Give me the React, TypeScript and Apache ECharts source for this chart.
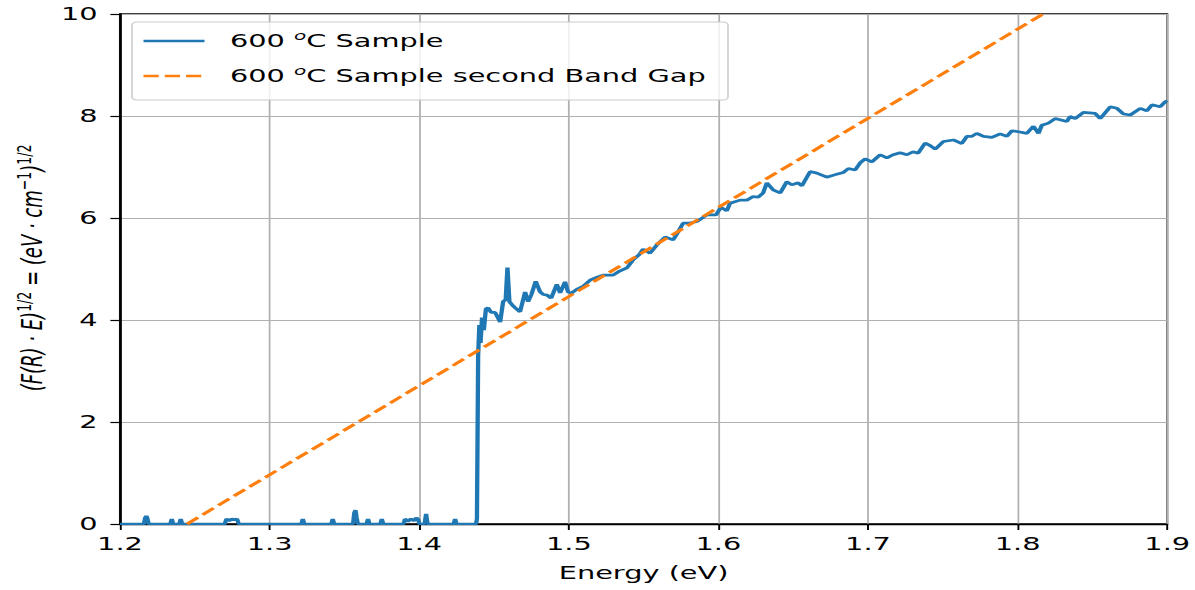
import React, { useEffect, useRef } from "react";
import * as echarts from "echarts";

// ---- data ----
const sampleEnergy = [
  1.2, 1.216, 1.2168, 1.2176, 1.2184, 1.2192, 1.2336, 1.2346, 1.2356, 1.2396, 1.2406, 1.2416,
  1.27, 1.2712, 1.273, 1.2748, 1.2768, 1.2782, 1.2794, 1.3212, 1.3222, 1.3232, 1.3412, 1.3422, 1.3432,
  1.3558, 1.3566, 1.3574, 1.3582, 1.359, 1.3648, 1.3658, 1.3668, 1.374, 1.375, 1.376,
  1.3895, 1.3905, 1.3925, 1.3945, 1.3965, 1.398, 1.3992, 1.4002, 1.4036, 1.4046, 1.4056,
  1.423, 1.424, 1.425, 1.438, 1.4386, 1.4394, 1.4402, 1.441, 1.442, 1.4432, 1.4446, 1.446, 1.448,
  1.4507, 1.4525, 1.4541, 1.4561, 1.4578, 1.459, 1.4603, 1.462, 1.4641, 1.4674, 1.4708, 1.4728,
  1.475, 1.4779, 1.4808, 1.483, 1.4853, 1.4882, 1.492, 1.4942, 1.4975, 1.4995, 1.502, 1.5053,
  1.5096, 1.5142, 1.519, 1.5229, 1.5296, 1.534, 1.5388, 1.543, 1.547, 1.5497, 1.5543, 1.5588,
  1.5644, 1.5697, 1.573, 1.5764, 1.5811, 1.5856, 1.5923, 1.5984, 1.6016, 1.6056, 1.6078, 1.6145,
  1.619, 1.6232, 1.6266, 1.6299, 1.6324, 1.6366, 1.6413, 1.6457, 1.6491, 1.6533, 1.6558, 1.6613,
  1.6658, 1.6725, 1.6792, 1.6834, 1.6869, 1.6914, 1.6947, 1.6981, 1.7026, 1.7081, 1.7126, 1.7168,
  1.7215, 1.726, 1.7302, 1.7335, 1.7382, 1.7416, 1.7449, 1.7504, 1.7571, 1.7627, 1.7661, 1.7694,
  1.7727, 1.7772, 1.7828, 1.7883, 1.7928, 1.7962, 1.8006, 1.8062, 1.8106, 1.814, 1.8162, 1.8206,
  1.8251, 1.8329, 1.8351, 1.8385, 1.844, 1.8519, 1.8552, 1.8619, 1.8664, 1.8708, 1.8753, 1.882,
  1.8864, 1.8898, 1.8953, 1.8987, 1.9,
];
const sampleValue = [
  0, 0, 0.12, 0.16, 0.1, 0, 0, 0.1, 0, 0, 0.1, 0,
  0, 0.1, 0.06, 0.1, 0.08, 0.1, 0, 0, 0.1, 0, 0, 0.1, 0,
  0, 0.22, 0.27, 0.12, 0, 0, 0.1, 0, 0, 0.1, 0,
  0, 0.1, 0.05, 0.1, 0.06, 0.12, 0.1, 0, 0, 0.2, 0,
  0, 0.1, 0, 0, 0.1, 3.3, 3.9, 3.55, 4.05, 3.8, 4.22, 4.24, 4.15,
  4.15, 4.05, 3.96, 4.36, 4.4, 5.03, 4.36, 4.3, 4.24, 4.16, 4.55, 4.36,
  4.5, 4.76, 4.55, 4.5, 4.49, 4.43, 4.7, 4.53, 4.75, 4.55, 4.53, 4.6,
  4.66, 4.78, 4.84, 4.88, 4.88, 4.96, 5.02, 5.18, 5.28, 5.39, 5.31, 5.47,
  5.63, 5.57, 5.72, 5.9, 5.9, 5.93, 6.06, 6.06, 6.21, 6.14, 6.29, 6.35,
  6.35, 6.42, 6.41, 6.49, 6.69, 6.55, 6.49, 6.71, 6.65, 6.69, 6.63, 6.91,
  6.88, 6.8, 6.86, 6.89, 6.97, 6.94, 7.08, 7.16, 7.1, 7.24, 7.18, 7.24,
  7.28, 7.24, 7.3, 7.27, 7.47, 7.42, 7.35, 7.5, 7.53, 7.46, 7.6, 7.6,
  7.66, 7.6, 7.58, 7.65, 7.6, 7.71, 7.69, 7.66, 7.8, 7.66, 7.82, 7.86,
  7.95, 7.89, 7.99, 7.95, 8.07, 8.05, 7.95, 8.18, 8.15, 8.04, 8.02, 8.15,
  8.1, 8.22, 8.18, 8.28, 8.3,
];
const bandGapEnergy = [1.2448, 1.817];
const bandGapValue = [0, 10];

const xMin = 1.2;
const xMax = 1.9;
const xStep = 0.1;
const yMin = 0;
const yMax = 10;
const yStep = 2;

const seriesNames = ["600 °C Sample", "600 °C Sample second Band Gap"];
const xAxisTitle = "Energy (eV)";

// ---- layout (pre-stretch coordinates) ----
const STRETCH = 1.6;
const W = 1195;
const H = 590;
const IW = W / STRETCH;
const FONT = "'DejaVu Sans', sans-serif";
const FS = 18;
const LW = 2.7;
const BLUE = "#1f77b4";
const ORANGE = "#ff7f0e";

export default function App() {
  const ref = useRef<HTMLDivElement>(null);

  useEffect(() => {
    if (!ref.current) return;
    const chart = echarts.init(ref.current, undefined, { renderer: "svg" });

    const baseText = { fontFamily: FONT, fontSize: FS, color: "#000" };
    const legendRich = {
      n: { fontFamily: FONT, fontSize: FS, fill: "#000", lineHeight: 23 },
      s: { fontFamily: FONT, fontSize: 12.5, fontStyle: "italic", fill: "#000", lineHeight: 12, verticalAlign: "top" },
    };
    const labelText = (name: string) => {
      const parts = name.split("°");
      return `{n|${parts[0]}}{s|o}{n|${parts[1]}}`;
    };

    chart.setOption({
      animation: false,
      backgroundColor: "#fff",
      grid: {
        left: 120 / STRETCH,
        right: 28 / STRETCH,
        top: 14,
        bottom: 66,
        show: true,
        borderColor: "#000",
        borderWidth: 1.3,
        backgroundColor: "transparent",
      },
      xAxis: {
        type: "value",
        min: xMin,
        max: xMax,
        interval: xStep,
        name: xAxisTitle,
        nameLocation: "middle",
        nameGap: 40,
        nameTextStyle: { ...baseText },
        axisLine: { show: true, onZero: false, lineStyle: { color: "#000", width: 1.3 } },
        axisTick: { show: true, length: 6, lineStyle: { color: "#000", width: 1.2 } },
        axisLabel: {
          ...baseText,
          margin: 11,
          showMaxLabel: true,
          showMinLabel: true,
          formatter: (v: number) => v.toFixed(1),
        },
        splitLine: { show: true, lineStyle: { color: "#b0b0b0", width: 1.1 } },
      },
      yAxis: {
        type: "value",
        min: yMin,
        max: yMax,
        interval: yStep,
        axisLine: { show: true, lineStyle: { color: "#000", width: 1.3 } },
        axisTick: { show: true, length: 6, lineStyle: { color: "#000", width: 1.2 } },
        axisLabel: { ...baseText, margin: 14, formatter: (v: number) => String(v) },
        splitLine: { show: true, lineStyle: { color: "#b0b0b0", width: 1.1 } },
      },
      series: [
        {
          name: seriesNames[0],
          type: "line",
          data: sampleEnergy.map((e, i) => [e, sampleValue[i]]),
          symbol: "none",
          lineStyle: { color: BLUE, width: LW },
          z: 3,
        },
        {
          name: seriesNames[1],
          type: "line",
          data: bandGapEnergy.map((e, i) => [e, bandGapValue[i]]),
          symbol: "none",
          lineStyle: { color: ORANGE, width: LW, type: [9.5, 4] },
          z: 4,
        },
      ],
      graphic: [
        {
          type: "text",
          x: 20,
          y: 268,
          rotation: Math.PI / 2,
          style: {
            text: "{i|(F(R) · E)}{s|1/2}{i| = (eV · cm}{s|−1}{i|)}{s|1/2}",
            align: "center",
            verticalAlign: "middle",
            rich: {
              i: { fontFamily: FONT, fontSize: FS, fontStyle: "italic", fill: "#000", lineHeight: 23 },
              s: { fontFamily: FONT, fontSize: 12.5, fill: "#000", lineHeight: 12, verticalAlign: "top" },
            },
          },
        },
        {
          type: "group",
          z: 100,
          children: [
            {
              type: "rect",
              shape: { x: 132 / STRETCH, y: 22, width: 596 / STRETCH, height: 78, r: 3 },
              style: { fill: "rgba(255,255,255,0.8)", stroke: "#cccccc", lineWidth: 1 },
              z: 100,
            },
            {
              type: "line",
              shape: { x1: 143.5 / STRETCH, y1: 41, x2: 204.5 / STRETCH, y2: 41 },
              style: { stroke: BLUE, lineWidth: LW },
              z: 101,
            },
            {
              type: "line",
              shape: { x1: 143.5 / STRETCH, y1: 76, x2: 204.5 / STRETCH, y2: 76 },
              style: { stroke: ORANGE, lineWidth: LW, lineDash: [9.5, 3.8] },
              z: 101,
            },
            {
              type: "text",
              x: 230 / STRETCH,
              y: 41,
              z: 101,
              style: { text: labelText(seriesNames[0]), verticalAlign: "middle", rich: legendRich },
            },
            {
              type: "text",
              x: 230 / STRETCH,
              y: 76,
              z: 101,
              style: { text: labelText(seriesNames[1]), verticalAlign: "middle", rich: legendRich },
            },
          ],
        },
      ],
    });

    return () => chart.dispose();
  }, []);

  return (
    <div
      style={{
        position: "fixed",
        left: 0,
        top: 0,
        width: W,
        height: H,
        overflow: "hidden",
        background: "#fff",
      }}
    >
      <div
        ref={ref}
        style={{
          width: IW,
          height: H,
          transform: `scaleX(${STRETCH})`,
          transformOrigin: "0 0",
        }}
      />
    </div>
  );
}
